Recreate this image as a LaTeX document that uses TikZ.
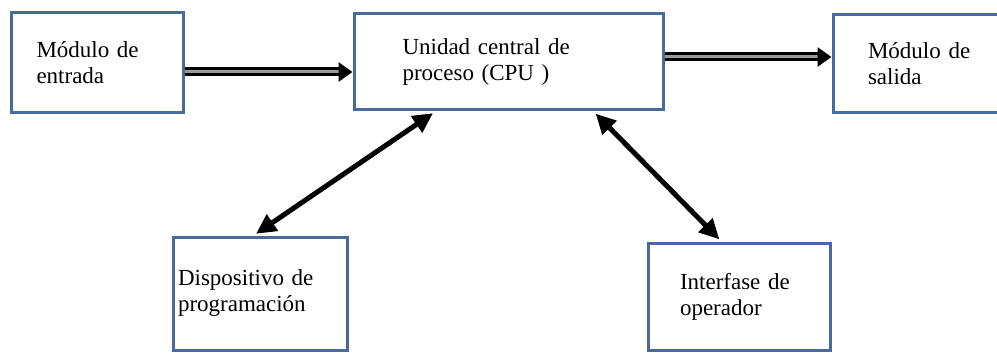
\documentclass[tikz,border=0pt]{standalone}
\usepackage{fontspec}
\setmainfont{Liberation Serif}
\usetikzlibrary{arrows.meta}
\definecolor{boxblue}{RGB}{72,106,156}
\tikzset{
  >={Triangle[length=20pt,width=19pt]},
  bloque/.style={draw=boxblue,line width=3pt,rectangle,inner sep=0pt,
    align=left,font=\fontsize{23}{26}\selectfont},
  flecha/.style={line width=5pt,<->,shorten <=3pt,shorten >=3pt},
  dflecha/.style={line width=3pt,double=black!40,double distance=3pt,
    -{Triangle[length=14pt,width=19pt]}}
}
\begin{document}
\begin{tikzpicture}[x=1pt,y=-1pt]
      \useasboundingbox (0,0) rectangle (997,353);
      \node[bloque,minimum width=172pt,minimum height=100pt,text width=121pt]
        (entrada) at (97,63) {Módulo de\\entrada};
      \node[bloque,minimum width=309pt,minimum height=96pt,text width=212pt]
        (cpu) at (508.5,62) {Unidad central de\\proceso (CPU )};
      \node[bloque,minimum width=177pt,minimum height=98pt,text width=107pt]
        (salida) at (921.5,64) {Módulo de\\salida};
      \node[bloque,minimum width=174pt,minimum height=113pt,text width=164pt]
        (dispo) at (260,293.5) {Dispositivo de\\programación};
      \node[bloque,minimum width=182pt,minimum height=107pt,text width=118pt]
        (inter) at (739,296.5) {Interfase de\\operador};
      \coordinate (e1) at ([yshift=-9pt]entrada.east);
      \coordinate (c1) at ([yshift=5pt]cpu.east);
      \draw[dflecha] (e1) -- (cpu.west |- e1);
      \draw[dflecha] (c1) -- (salida.west |- c1);
      \draw[flecha] ([xshift=83pt]cpu.south west) -- ([xshift=82pt]dispo.north west);
      \draw[flecha] ([xshift=241pt]cpu.south west) -- ([xshift=75pt]inter.north west);
\end{tikzpicture}
\end{document}
